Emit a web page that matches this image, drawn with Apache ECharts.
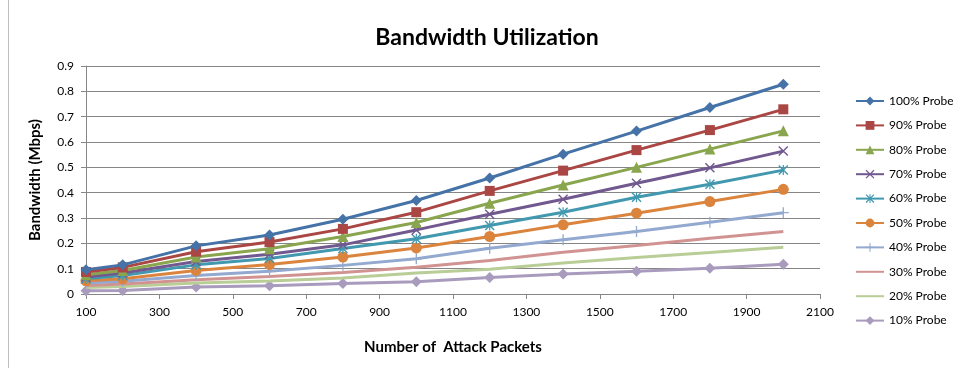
<!DOCTYPE html>
<html>
<head>
<meta charset="utf-8">
<title>Bandwidth Utilization</title>
<script src="https://cdn.jsdelivr.net/npm/echarts@6/dist/echarts.min.js"></script>
<style>
  html, body { margin: 0; padding: 0; background: #fff; }
  #main { width: 953px; height: 368px; }
</style>
</head>
<body>
<div id="main"></div>
<script>
// number of attack packets (x positions)
const packets = [100, 200, 400, 600, 800, 1000, 1200, 1400, 1600, 1800, 2000]

// bandwidth in Mbps, one array per probe rate
const probe100 = [0.096, 0.115, 0.190, 0.233, 0.295, 0.369, 0.458, 0.552, 0.643, 0.736, 0.828]
const probe90 = [0.087, 0.105, 0.167, 0.205, 0.257, 0.323, 0.407, 0.487, 0.568, 0.647, 0.729]
const probe80 = [0.076, 0.093, 0.146, 0.179, 0.227, 0.282, 0.358, 0.430, 0.500, 0.572, 0.644]
const probe70 = [0.067, 0.083, 0.128, 0.157, 0.194, 0.253, 0.315, 0.374, 0.437, 0.498, 0.564]
const probe60 = [0.060, 0.073, 0.115, 0.140, 0.180, 0.218, 0.270, 0.323, 0.382, 0.433, 0.489]
const probe50 = [0.052, 0.060, 0.093, 0.116, 0.146, 0.182, 0.227, 0.273, 0.319, 0.365, 0.413]
const probe40 = [0.043, 0.050, 0.073, 0.090, 0.113, 0.139, 0.181, 0.214, 0.247, 0.283, 0.321]
const probe30 = [0.034, 0.039, 0.056, 0.069, 0.085, 0.106, 0.132, 0.165, 0.191, 0.220, 0.247]
const probe20 = [0.026, 0.030, 0.043, 0.051, 0.063, 0.083, 0.098, 0.122, 0.144, 0.164, 0.185]
const probe10 = [0.013, 0.014, 0.028, 0.033, 0.041, 0.048, 0.065, 0.079, 0.090, 0.102, 0.117]

const seriesNames = ['100% Probe', '90% Probe', '80% Probe', '70% Probe', '60% Probe',
  '50% Probe', '40% Probe', '30% Probe', '20% Probe', '10% Probe']

const FONT = 'Lato, "Open Sans", sans-serif'

// marker shapes (excel style)
const xMark = 'path://M0,1L1,0L10,9L9,10Z M9,0L10,1L1,10L0,9Z'
const starMark = 'path://M0,1L1,0L10,9L9,10Z M9,0L10,1L1,10L0,9Z M4.4,0L5.6,0L5.6,10L4.4,10Z'
const plusMark = 'path://M4.4,0L5.6,0L5.6,10L4.4,10Z M0,4.4L10,4.4L10,5.6L0,5.6Z'

const styles = [
  { data: probe100, color: '#4572A7', symbol: 'diamond', size: 11 },
  { data: probe90, color: '#AA4643', symbol: 'rect', size: 10 },
  { data: probe80, color: '#89A54E', symbol: 'triangle', size: 11 },
  { data: probe70, color: '#71588F', symbol: xMark, size: 10 },
  { data: probe60, color: '#4198AF', symbol: starMark, size: 10 },
  { data: probe50, color: '#DB843D', symbol: 'circle', size: 11 },
  { data: probe40, color: '#93A9CF', symbol: plusMark, size: 11 },
  { data: probe30, color: '#D19392', symbol: 'none', size: 0 },
  { data: probe20, color: '#B9CD96', symbol: 'none', size: 0 },
  { data: probe10, color: '#A99BBD', symbol: 'diamond', size: 11 }
]

const series = []
const legendData = []
for (let i = 0; i < styles.length; i++) {
  const s = styles[i]
  series.push({
    name: seriesNames[i],
    type: 'line',
    data: packets.map((p, k) => [p, s.data[k]]),
    symbol: s.symbol,
    symbolSize: s.size,
    showSymbol: s.symbol !== 'none',
    lineStyle: { color: s.color, width: 3 },
    itemStyle: { color: s.color, borderWidth: 0 },
    z: 20 - i
  })
  if (s.symbol === 'none') {
    legendData.push({ name: seriesNames[i], itemStyle: { opacity: 0 } })
  } else {
    legendData.push({ name: seriesNames[i] })
  }
}

const myChart = echarts.init(document.getElementById('main'))

const option = {
  animation: false,
  backgroundColor: '#fff',
  textStyle: { fontFamily: FONT },
  title: {
    text: 'Bandwidth Utilization',
    left: 482,
    top: 21,
    textAlign: 'center',
    textStyle: { fontFamily: FONT, fontSize: 23, fontWeight: 'bold', color: '#000' }
  },
  graphic: [{
    type: 'line',
    shape: { x1: 8.5, y1: 0, x2: 8.5, y2: 368 },
    style: { stroke: '#bfbfbf', lineWidth: 1 }
  }],
  legend: {
    orient: 'vertical',
    left: 850,
    top: 89,
    itemWidth: 28,
    itemHeight: 11,
    itemGap: 10.4,
    data: legendData,
    textStyle: { fontFamily: FONT, fontSize: 12, color: '#000', lineHeight: 14 }
  },
  grid: {
    left: 86,
    right: 133,
    top: 66,
    bottom: 74
  },
  xAxis: {
    type: 'value',
    min: 100,
    max: 2100,
    interval: 200,
    name: 'Number of  Attack Packets',
    nameLocation: 'middle',
    nameGap: 46,
    nameTextStyle: { fontFamily: FONT, fontSize: 15, fontWeight: 'bold', color: '#000' },
    axisLine: { show: true, lineStyle: { color: '#868686', width: 1 } },
    axisTick: { show: true, length: 5, lineStyle: { color: '#868686' } },
    axisLabel: {
      fontFamily: FONT, fontSize: 12, color: '#000', margin: 12,
      formatter: v => String(v)
    },
    splitLine: { show: false }
  },
  yAxis: {
    type: 'value',
    min: 0,
    max: 0.9,
    interval: 0.1,
    name: 'Bandwidth (Mbps)',
    nameLocation: 'middle',
    nameRotate: 90,
    nameGap: 43,
    nameTextStyle: { fontFamily: FONT, fontSize: 15, fontWeight: 'bold', color: '#000' },
    axisLine: { show: true, lineStyle: { color: '#868686', width: 1 } },
    axisTick: { show: true, length: 5, lineStyle: { color: '#868686' } },
    axisLabel: { fontFamily: FONT, fontSize: 12, color: '#000', margin: 12 },
    splitLine: { show: true, lineStyle: { color: '#868686', width: 1 } }
  },
  series: series
}

myChart.setOption(option)
</script>
</body>
</html>
